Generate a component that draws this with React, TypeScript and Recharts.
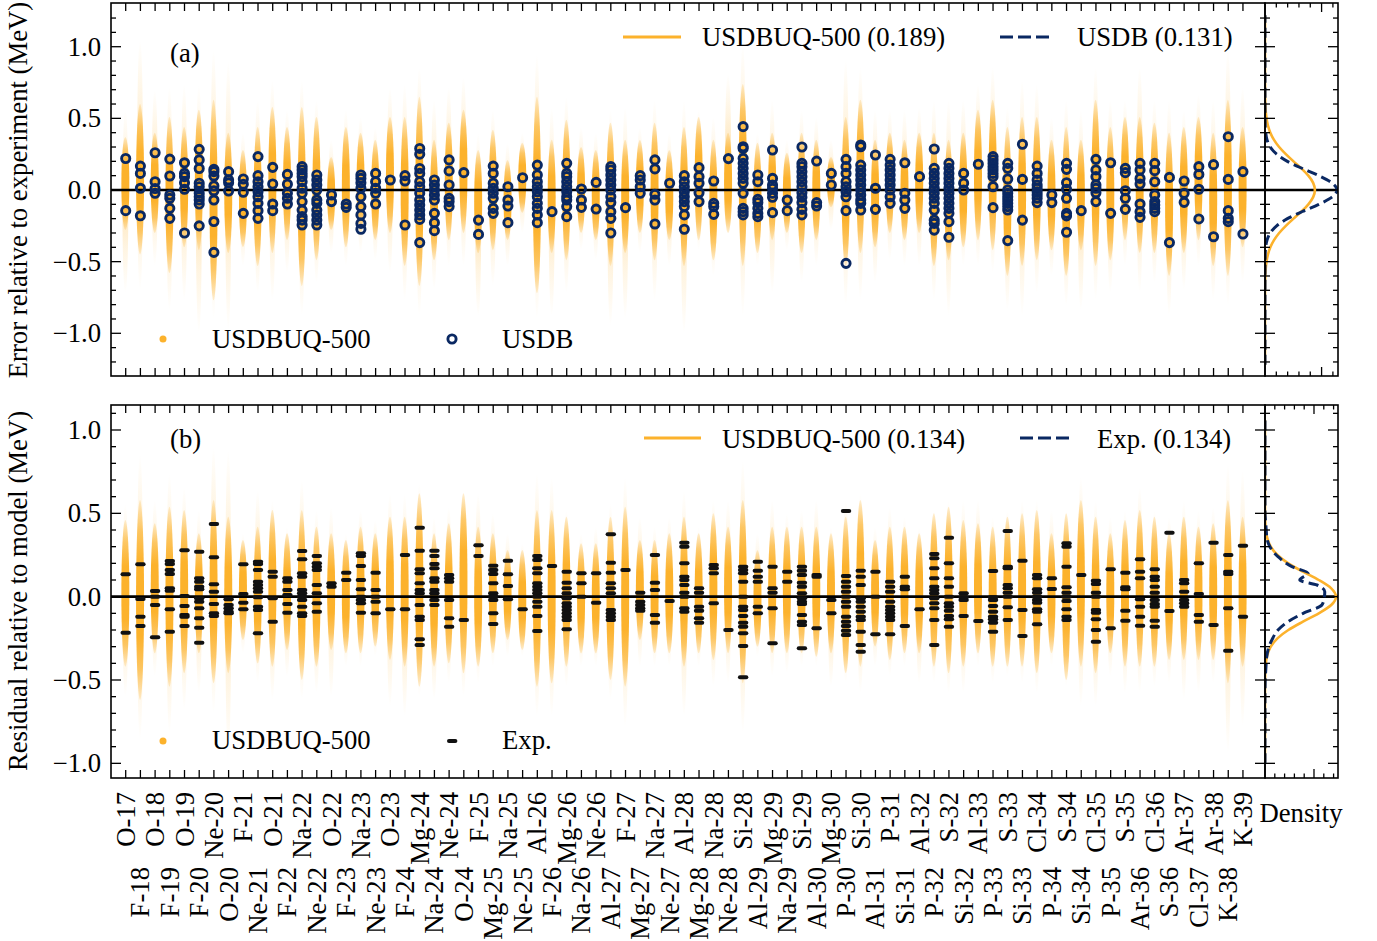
import React from 'react';
import { ComposedChart, Bar, Scatter, Line, XAxis, YAxis, ReferenceLine } from 'recharts';

const nuclei = [
  'O-17', 'F-18', 'O-18', 'F-19', 'O-19', 'F-20', 'Ne-20', 'O-20', 'F-21', 'Ne-21',
  'O-21', 'F-22', 'Na-22', 'Ne-22', 'O-22', 'F-23', 'Na-23', 'Ne-23', 'O-23', 'F-24',
  'Mg-24', 'Na-24', 'Ne-24', 'O-24', 'F-25', 'Mg-25', 'Na-25', 'Ne-25', 'Al-26', 'F-26',
  'Mg-26', 'Na-26', 'Ne-26', 'Al-27', 'F-27', 'Mg-27', 'Na-27', 'Ne-27', 'Al-28', 'Mg-28',
  'Na-28', 'Ne-28', 'Si-28', 'Al-29', 'Mg-29', 'Na-29', 'Si-29', 'Al-30', 'Mg-30', 'P-30',
  'Si-30', 'Al-31', 'P-31', 'Si-31', 'Al-32', 'P-32', 'S-32', 'Si-32', 'Al-33', 'P-33',
  'S-33', 'Si-33', 'Cl-34', 'P-34', 'S-34', 'Si-34', 'Cl-35', 'P-35', 'S-35', 'Ar-36',
  'Cl-36', 'S-36', 'Ar-37', 'Cl-37', 'Ar-38', 'K-38', 'K-39',
];

// (a) USDB error relative to experiment, one list per nucleus (MeV)
const usdbErr: number[][] = [
  [0.22, -0.144], [0.167, 0.116, 0.012, -0.18], [0.26, 0.058, 0.01, -0.023],
  [0.216, 0.098, -0.035, -0.058, -0.128, -0.198], [0.19, 0.116, 0.093, 0.05, 0.005, -0.3],
  [0.284, 0.21, 0.15, 0.047, 0.023, -0.023, -0.047, -0.07, -0.098, -0.25],
  [0.144, 0.128, 0.098, 0.028, -0.005, -0.07, -0.22, -0.435], [0.128, 0.07, 0.05, -0.007],
  [0.077, 0.04, -0.016, -0.163], [0.233, 0.1, 0.058, 0.023, -0.012, -0.047, -0.093, -0.144, -0.198],
  [0.158, 0.042, -0.098, -0.144], [0.109, 0.04, -0.023, -0.058, -0.098],
  [0.163, 0.14, 0.116, 0.093, 0.058, 0.012, -0.023, -0.081, -0.14, -0.186, -0.21, -0.244],
  [0.105, 0.07, 0.035, 0, -0.07, -0.093, -0.14, -0.174, -0.21, -0.244], [-0.035, -0.081],
  [-0.098, -0.121], [0.105, 0.081, 0.05, 0.012, -0.047, -0.116, -0.174, -0.233, -0.274],
  [0.116, 0.058, 0.012, -0.023, -0.098], [0.07], [0.1, 0.063, -0.244],
  [0.29, 0.25, 0.15, 0.116, 0.058, 0.023, -0.023, -0.07, -0.105, -0.14, -0.174, -0.205, -0.367],
  [0.07, 0.035, 0, -0.035, -0.07, -0.163, -0.228, -0.284], [0.21, 0.133, 0.035, -0.058, -0.081, -0.116],
  [0.121], [-0.21, -0.31], [0.167, 0.116, 0.047, 0.012, -0.023, -0.058, -0.128, -0.163],
  [0.023, -0.07, -0.112, -0.228], [0.086],
  [0.174, 0.105, 0.058, 0.023, -0.012, -0.047, -0.093, -0.128, -0.174, -0.228], [-0.151],
  [0.186, 0.116, 0.093, 0.058, 0.023, -0.012, -0.047, -0.07, -0.116, -0.186], [0.007, -0.07, -0.121],
  [0.053, -0.133], [0.163, 0.14, 0.105, 0.07, 0.035, 0, -0.047, -0.088, -0.151, -0.198, -0.3],
  [-0.123], [0.1, 0.07, 0.023, -0.023], [0.21, 0.147, -0.03, -0.07, -0.237], [0.047],
  [0.1, 0.058, 0.023, -0.012, -0.047, -0.081, -0.116, -0.174, -0.274], [0.156, 0.093, 0.047, -0.019, -0.081],
  [0.063, -0.093, -0.116, -0.17], [0.219],
  [0.442, 0.302, 0.29, 0.221, 0.186, 0.151, 0.116, 0.081, 0.047, -0.023, -0.128, -0.151, -0.174],
  [0.105, 0.058, -0.065, -0.088, -0.128, -0.163, -0.186], [0.279, 0.081, 0.035, 0.012, -0.023, -0.051, -0.158],
  [-0.07, -0.144], [0.3, 0.186, 0.163, 0.128, 0.093, 0.058, 0.023, -0.019, -0.051, -0.088, -0.135, -0.174],
  [0.202, -0.088, -0.112], [0.116, 0.035], [0.214, 0.163, 0.116, 0.058, 0.023, -0.012, -0.047, -0.144, -0.512],
  [0.314, 0.302, 0.174, 0.14, 0.105, 0.07, 0.035, 0, -0.035, -0.07, -0.093, -0.14], [0.244, 0.012, -0.135],
  [0.214, 0.174, 0.14, 0.105, 0.07, 0.035, 0, -0.047, -0.093], [0.19, -0.023, -0.07, -0.128], [0.093],
  [0.286, 0.151, 0.116, 0.081, 0.047, 0.012, -0.023, -0.058, -0.093, -0.14, -0.21, -0.233, -0.28],
  [0.186, 0.151, 0.116, 0.081, 0.047, 0.012, -0.023, -0.058, -0.093, -0.128, -0.163, -0.221, -0.33],
  [0.116, 0.047, 0], [0.18], [0.233, 0.21, 0.186, 0.163, 0.14, 0.116, 0.093, 0.023, -0.123],
  [0.186, 0.151, 0.077, 0, -0.023, -0.047, -0.07, -0.093, -0.116, -0.14, -0.353], [0.319, 0.074, -0.21],
  [0.167, 0.116, 0.07, 0.035, 0.012, -0.012, -0.035, -0.058, -0.088], [-0.035, -0.088],
  [0.186, 0.144, 0.051, 0.005, -0.058, -0.163, -0.181, -0.295], [-0.144],
  [0.214, 0.14, 0.093, 0.035, 0.012, -0.019, -0.081], [0.19, -0.163], [0.151, 0.121, -0.005, -0.058, -0.135],
  [0.186, 0.14, 0.081, 0.042, -0.098, -0.151, -0.191], [0.186, 0.135, 0.058, -0.035, -0.081, -0.105, -0.128, -0.151],
  [0.088, -0.367], [0.063, -0.023, -0.086], [0.163, 0.109, 0.005, -0.202], [0.177, -0.326],
  [0.372, 0.074, -0.144, -0.198, -0.221], [0.128, -0.307],
];

// (b) experimental residual relative to model (MeV)
const expResid: number[][] = [
  [0.134, -0.216], [0.194, -0.014, -0.12, -0.176], [0.034, 0, -0.05, -0.244],
  [0.214, 0.196, 0.16, 0.136, 0.05, 0.036, -0.076, -0.21], [0.278, 0.004, -0.056, -0.11, -0.12, -0.176],
  [0.27, 0.11, 0.09, 0.06, 0.044, -0.01, -0.03, -0.07, -0.13, -0.186, -0.276],
  [0.436, 0.236, 0.074, 0.03, -0.044, -0.1, -0.116], [-0.016, -0.05, -0.07, -0.09, -0.1],
  [0.194, 0.016, -0.036, -0.076], [0.21, 0.196, 0.16, 0.09, 0.07, 0.05, 0.03, -0.004, -0.06, -0.08, -0.22],
  [0.15, 0.12, -0.01, -0.15], [0.11, 0.09, 0.04, 0.01, -0.044, -0.096],
  [0.274, 0.224, 0.14, 0.12, 0.04, 0.02, 0, -0.02, -0.06, -0.1, -0.116],
  [0.244, 0.2, 0.18, 0.16, 0.07, 0.02, -0.04, -0.09], [0.08, 0.06], [0.144, 0.1],
  [0.26, 0.244, 0.184, 0.1, 0.044, 0, -0.02, -0.04, -0.096], [0.144, 0.04, 0, -0.03, -0.1], [-0.076],
  [0.25, -0.076], [0.414, 0.276, 0.164, 0.14, 0.08, 0.04, 0.02, -0.05, -0.12, -0.14, -0.256, -0.29],
  [0.276, 0.244, 0.196, 0.17, 0.11, 0.09, 0.04, 0.02, -0.02, -0.05], [0.13, 0.11, 0.09, -0.02, -0.13, -0.18],
  [-0.14], [0.308, 0.244], [0.186, 0.16, 0.136, 0.08, 0.02, 0, -0.02, -0.1, -0.164],
  [0.216, 0.134, 0.064, -0.016], [-0.076],
  [0.244, 0.22, 0.17, 0.14, 0.08, 0.06, 0.04, 0.02, 0, -0.03, -0.06, -0.116, -0.206], [0.184],
  [0.15, 0.084, 0.05, 0.02, -0.01, -0.04, -0.06, -0.08, -0.1, -0.12, -0.14, -0.196], [0.14, 0.08, 0],
  [0.14, -0.036], [0.374, 0.204, 0.144, 0.08, 0.05, 0.02, -0.08, -0.1, -0.12, -0.14], [0.16],
  [0.024, -0.03, -0.05, -0.07, -0.084], [0.25, 0.084, 0.04, -0.11, -0.156], [-0.026],
  [0.324, 0.3, 0.2, 0.12, 0.1, 0.07, 0.024, 0, -0.07, -0.09], [0.05, 0.024, -0.06, -0.084, -0.13, -0.156],
  [0.19, 0.17, 0.14, -0.04], [-0.2],
  [0.18, 0.16, 0.14, 0.09, 0, -0.06, -0.08, -0.116, -0.156, -0.18, -0.22, -0.296, -0.484],
  [0.21, 0.156, 0.12, 0.09, -0.06, -0.1], [0.18, 0.05, 0.024, -0.07, -0.28], [0.15, 0.09],
  [0.18, 0.156, 0.13, 0.084, 0.06, 0.02, -0.01, -0.03, -0.044, -0.11, -0.15, -0.17, -0.31],
  [0.13, 0.12, -0.19], [-0.02, -0.1],
  [0.514, 0.124, 0.09, 0.06, 0.03, 0, -0.03, -0.06, -0.12, -0.15, -0.176, -0.204, -0.23],
  [0.156, 0.12, 0.07, -0.01, -0.03, -0.06, -0.09, -0.12, -0.14, -0.21, -0.29, -0.33], [0.15, 0, -0.226],
  [0.09, 0.06, 0.03, -0.03, -0.06, -0.08, -0.1, -0.12, -0.14, -0.226], [0.12, 0.06, 0.044, -0.176], [-0.076],
  [0.256, 0.23, 0.17, 0.11, 0.06, 0.04, 0.02, -0.01, -0.04, -0.07, -0.14, -0.29],
  [0.354, 0.2, 0.11, 0.06, 0, -0.04, -0.06, -0.084, -0.116, -0.136, -0.18], [0.02, -0.004, -0.02, -0.116],
  [-0.146], [0.154, -0.004, -0.02, -0.056, -0.09, -0.12, -0.136, -0.156, -0.21],
  [0.394, 0.18, 0.17, 0.07, 0.05, 0.024, 0, -0.064, -0.14], [0.216, -0.08, -0.236],
  [0.13, 0.11, 0.044, 0.024, 0, -0.02, -0.036, -0.076, -0.09, -0.166], [0.11, 0.046],
  [0.32, 0.3, 0.18, 0.056, 0.024, 0, -0.026, -0.076, -0.12, -0.14], [0.13],
  [0.096, 0.076, 0.024, 0, -0.08, -0.096, -0.136, -0.2, -0.27], [0.164, -0.19],
  [0.144, 0.056, 0.044, -0.084, -0.144], [0.224, 0.15, 0.11, -0.016, -0.06, -0.12, -0.174],
  [0.164, 0.12, 0.1, 0.06, 0.024, -0.02, -0.044, -0.06, -0.144, -0.18], [0.384, -0.086],
  [0.1, 0.08, 0.03, -0.02, -0.04, -0.06], [0.2, 0.016, -0.11, -0.15], [0.324, -0.17],
  [0.25, 0.15, 0.136, -0.07, -0.324], [0.306, -0.12],
];

// USDBUQ-500 sample spread per nucleus: dense core and faint tail [low, high]
const uqCoreA: number[][] = [
  [-0.28, 0.37], [-0.45, 0.6], [-0.3, 0.4], [-0.58, 0.51], [-0.4, 0.44], [-0.42, 0.56], [-0.77, 0.63],
  [-0.44, 0.4], [-0.4, 0.28], [-0.53, 0.44], [-0.44, 0.58], [-0.35, 0.44], [-0.67, 0.58], [-0.49, 0.51],
  [-0.28, 0.23], [-0.4, 0.44], [-0.3, 0.4], [-0.35, 0.35], [-0.3, 0.51], [-0.53, 0.51], [-0.67, 0.65],
  [-0.49, 0.35], [-0.35, 0.47], [-0.3, 0.56], [-0.44, 0.28], [-0.42, 0.42], [-0.35, 0.21], [-0.16, 0.33],
  [-0.72, 0.65], [-0.44, 0.35], [-0.49, 0.49], [-0.3, 0.3], [-0.35, 0.28], [-0.53, 0.47], [-0.44, 0.35],
  [-0.3, 0.35], [-0.49, 0.47], [-0.35, 0.28], [-0.53, 0.44], [-0.35, 0.51], [-0.49, 0.35], [-0.3, 0.4],
  [-0.53, 0.74], [-0.44, 0.33], [-0.35, 0.4], [-0.3, 0.26], [-0.44, 0.4], [-0.35, 0.35], [-0.12, 0.23],
  [-0.53, 0.51], [-0.44, 0.63], [-0.4, 0.35], [-0.3, 0.4], [-0.35, 0.35], [-0.3, 0.4], [-0.53, 0.4],
  [-0.49, 0.35], [-0.4, 0.4], [-0.35, 0.56], [-0.42, 0.63], [-0.6, 0.44], [-0.53, 0.51], [-0.49, 0.51],
  [-0.42, 0.35], [-0.6, 0.44], [-0.42, 0.35], [-0.53, 0.63], [-0.49, 0.44], [-0.35, 0.51], [-0.44, 0.51],
  [-0.44, 0.47], [-0.6, 0.4], [-0.44, 0.44], [-0.35, 0.51], [-0.53, 0.4], [-0.6, 0.63], [-0.4, 0.44],
];
const uqTailA: number[][] = [
  [-0.72, 0.56], [-0.7, 1.05], [-0.53, 0.7], [-0.84, 0.72], [-0.77, 0.74], [-1.0, 0.74], [-0.9, 0.98],
  [-0.98, 0.9], [-0.53, 0.4], [-0.72, 0.63], [-0.77, 0.77], [-0.58, 0.56], [-0.88, 0.77], [-0.65, 0.63],
  [-0.44, 0.35], [-0.53, 0.56], [-0.44, 0.51], [-0.49, 0.44], [-0.58, 0.72], [-0.77, 0.74], [-0.88, 0.86],
  [-0.7, 0.63], [-0.53, 0.72], [-0.53, 0.79], [-0.88, 0.4], [-0.67, 0.56], [-0.53, 0.33], [-0.3, 0.4],
  [-0.9, 0.95], [-0.88, 0.58], [-0.72, 0.65], [-0.42, 0.44], [-0.49, 0.4], [-0.95, 0.56], [-0.9, 0.58],
  [-0.44, 0.44], [-0.77, 0.63], [-0.53, 0.4], [-1.0, 0.63], [-0.42, 0.56], [-0.6, 0.51], [-0.3, 0.81],
  [-0.88, 1.02], [-0.53, 0.4], [-0.72, 0.63], [-0.42, 0.35], [-0.65, 0.56], [-0.53, 0.51], [-0.28, 0.35],
  [-0.81, 0.91], [-0.77, 0.86], [-0.65, 0.56], [-0.49, 0.56], [-0.53, 0.56], [-0.53, 0.58], [-0.77, 0.63],
  [-0.88, 0.63], [-0.53, 0.63], [-0.53, 0.74], [-0.58, 0.86], [-0.84, 0.58], [-0.88, 0.77], [-0.72, 0.74],
  [-0.6, 0.51], [-0.81, 0.63], [-0.84, 0.56], [-0.77, 0.86], [-0.72, 0.63], [-0.53, 0.63], [-0.72, 0.86],
  [-0.65, 0.63], [-0.88, 0.63], [-0.7, 0.56], [-0.53, 0.67], [-0.77, 0.63], [-0.81, 0.98], [-0.65, 0.72],
];
const uqCoreB: number[][] = [
  [-0.42, 0.46], [-0.62, 0.58], [-0.34, 0.44], [-0.54, 0.54], [-0.46, 0.52], [-0.34, 0.38], [-0.52, 0.58],
  [-0.46, 0.48], [-0.26, 0.34], [-0.4, 0.42], [-0.42, 0.52], [-0.32, 0.38], [-0.5, 0.52], [-0.42, 0.42],
  [-0.32, 0.38], [-0.34, 0.34], [-0.34, 0.42], [-0.3, 0.38], [-0.38, 0.48], [-0.42, 0.48], [-0.54, 0.62],
  [-0.42, 0.38], [-0.4, 0.44], [-0.46, 0.62], [-0.42, 0.42], [-0.34, 0.38], [-0.26, 0.28], [-0.32, 0.28],
  [-0.54, 0.52], [-0.52, 0.52], [-0.42, 0.48], [-0.34, 0.32], [-0.34, 0.32], [-0.5, 0.48], [-0.54, 0.54],
  [-0.26, 0.34], [-0.34, 0.34], [-0.34, 0.38], [-0.42, 0.48], [-0.34, 0.38], [-0.38, 0.5], [-0.34, 0.42],
  [-0.52, 0.58], [-0.3, 0.28], [-0.34, 0.42], [-0.34, 0.42], [-0.34, 0.42], [-0.36, 0.42], [-0.34, 0.38],
  [-0.46, 0.48], [-0.42, 0.58], [-0.3, 0.34], [-0.38, 0.42], [-0.34, 0.42], [-0.34, 0.38], [-0.42, 0.5],
  [-0.46, 0.54], [-0.42, 0.46], [-0.34, 0.44], [-0.42, 0.42], [-0.42, 0.48], [-0.42, 0.5], [-0.46, 0.52],
  [-0.34, 0.38], [-0.5, 0.5], [-0.42, 0.58], [-0.46, 0.48], [-0.34, 0.38], [-0.42, 0.46], [-0.42, 0.52],
  [-0.42, 0.48], [-0.38, 0.38], [-0.38, 0.48], [-0.38, 0.42], [-0.38, 0.44], [-0.52, 0.58], [-0.42, 0.48],
];
const uqTailB: number[][] = [
  [-0.6, 0.56], [-0.86, 0.86], [-0.48, 0.58], [-0.82, 0.74], [-0.68, 0.66], [-0.58, 0.52], [-0.7, 0.9],
  [-0.94, 0.88], [-0.34, 0.38], [-0.52, 0.64], [-0.62, 0.58], [-0.48, 0.42], [-0.62, 0.7], [-0.58, 0.52],
  [-0.6, 0.54], [-0.42, 0.38], [-0.42, 0.52], [-0.36, 0.46], [-0.66, 0.62], [-0.72, 0.62], [-0.6, 0.68],
  [-0.62, 0.48], [-0.52, 0.54], [-0.6, 0.64], [-0.52, 0.62], [-0.42, 0.5], [-0.36, 0.38], [-0.36, 0.32],
  [-0.72, 0.74], [-0.72, 0.72], [-0.54, 0.52], [-0.42, 0.38], [-0.42, 0.42], [-0.62, 0.56], [-0.78, 0.72],
  [-0.42, 0.48], [-0.42, 0.42], [-0.42, 0.48], [-0.72, 0.64], [-0.42, 0.42], [-0.54, 0.58], [-0.52, 0.58],
  [-0.82, 0.82], [-0.36, 0.38], [-0.48, 0.58], [-0.46, 0.5], [-0.42, 0.52], [-0.42, 0.58], [-0.54, 0.42],
  [-0.52, 0.58], [-0.58, 0.62], [-0.42, 0.42], [-0.48, 0.54], [-0.42, 0.48], [-0.52, 0.42], [-0.52, 0.52],
  [-0.58, 0.58], [-0.58, 0.58], [-0.42, 0.58], [-0.52, 0.48], [-0.48, 0.52], [-0.52, 0.58], [-0.58, 0.58],
  [-0.42, 0.52], [-0.54, 0.52], [-0.66, 0.72], [-0.66, 0.58], [-0.48, 0.48], [-0.58, 0.52], [-0.58, 0.66],
  [-0.54, 0.52], [-0.52, 0.48], [-0.62, 0.58], [-0.58, 0.52], [-0.52, 0.54], [-0.94, 0.8], [-0.78, 0.76],
];

// density side panels
const densGridA = [-1.22, -1.0, -0.8, -0.7, -0.6, -0.5, -0.45, -0.4, -0.35, -0.3, -0.25, -0.2, -0.15, -0.1, -0.05, 0,
  0.05, 0.1, 0.15, 0.2, 0.25, 0.3, 0.35, 0.4, 0.45, 0.5, 0.6, 0.7, 0.8, 1.0, 1.22];
const densUqA = [0, 0, 0, 0.001, 0.006, 0.027, 0.052, 0.094, 0.159, 0.25, 0.368, 0.504, 0.644, 0.766, 0.851, 0.882,
  0.851, 0.766, 0.644, 0.504, 0.368, 0.25, 0.159, 0.094, 0.052, 0.027, 0.006, 0.001, 0, 0, 0];
const densUsdbA = [0, 0, 0, 0, 0, 0.001, 0.003, 0.012, 0.036, 0.092, 0.206, 0.396, 0.66, 0.951, 1.183, 1.272,
  1.183, 0.951, 0.66, 0.396, 0.206, 0.092, 0.036, 0.012, 0.003, 0.001, 0, 0, 0, 0, 0];
const densGridB = [-0.99, -0.8, -0.6, -0.5, -0.45, -0.4, -0.35, -0.3, -0.25, -0.2, -0.15, -0.1, -0.05, 0,
  0.05, 0.1, 0.15, 0.2, 0.25, 0.3, 0.35, 0.4, 0.45, 0.5, 0.6, 0.8, 1.06];
const densUqB = [0, 0, 0, 0.001, 0.005, 0.017, 0.048, 0.118, 0.254, 0.476, 0.775, 1.097, 1.352, 1.449,
  1.352, 1.097, 0.775, 0.476, 0.254, 0.118, 0.048, 0.017, 0.005, 0.001, 0, 0, 0];
const expGridB = [-1.0, -0.6, -0.5, -0.42, -0.36, -0.3, -0.26, -0.2, -0.15, -0.1, -0.05, -0.02, 0.03, 0.07,
  0.1, 0.14, 0.18, 0.24, 0.3, 0.34, 0.42, 0.52, 0.7, 1.08];
const densExpB = [0, 0, 0.005, 0.02, 0.035, 0.08, 0.14, 0.265, 0.47, 0.78, 1.16, 1.2, 1.22, 1.06,
  0.71, 0.88, 0.55, 0.265, 0.1, 0.047, 0.02, 0, 0, 0];

const yTicksA = [-1.2, -1.1, -1.0, -0.9, -0.8, -0.7, -0.6, -0.5, -0.4, -0.3, -0.2, -0.1, 0, 0.1, 0.2, 0.3, 0.4, 0.5,
  0.6, 0.7, 0.8, 0.9, 1.0, 1.1, 1.2];
const yTicksB = [-1.0, -0.9, -0.8, -0.7, -0.6, -0.5, -0.4, -0.3, -0.2, -0.1, 0, 0.1, 0.2, 0.3, 0.4, 0.5, 0.6,
  0.7, 0.8, 0.9, 1.0, 1.1];
const densTicksA = [0.2, 0.4, 0.6, 0.8, 1.0, 1.2];
const densTicksB = [0.2, 0.4, 0.6, 0.8, 1.0, 1.2, 1.4];

const ORANGE = '#FCB22C';
const NAVY = '#0A2862';
const FONT = "'Liberation Serif', 'Times New Roman', serif";
const FS = 26.7;

const W = 1377;
const H = 941;
const PA = { left: 111, right: 1265, top: 3, bottom: 376 };
const PB = { left: 111, right: 1265, top: 405, bottom: 778 };
const DR = 1338;

const bandA = nuclei.map((_, i) => ({ x: i, tail: uqTailA[i], core: uqCoreA[i] }));
const bandB = nuclei.map((_, i) => ({ x: i, tail: uqTailB[i], core: uqCoreB[i] }));
const usdbPts = usdbErr.flatMap((vals, i) => vals.map((v) => ({ x: i, y: v })));
const expPts = expResid.flatMap((vals, i) => vals.map((v) => ({ x: i, y: v })));
const xTicks = nuclei.map((_, i) => i);
const densA = densGridA.map((v, i) => ({ v, uq: densUqA[i], usdb: densUsdbA[i] }));
const densB = densGridB.map((v, i) => ({ v, uq: densUqB[i] }));
const densE = expGridB.map((v, i) => ({ v, exp: densExpB[i] }));

const fmt = (v: number) => (v < 0 ? '\u2212' : '') + Math.abs(v).toFixed(1);

const Band = (props: any) => {
  const { x, y, width, height, payload } = props;
  if (!payload || height == null) return null;
  const [tLo, tHi] = payload.tail;
  const [cLo, cHi] = payload.core;
  const top = Math.min(y, y + height);
  const h = Math.abs(height);
  const k = h / (tHi - tLo);
  const cx = x + width / 2;
  const cTop = top + (tHi - cHi) * k;
  const cH = (cHi - cLo) * k;
  return (
    <g>
      <ellipse cx={cx} cy={top + h / 2} rx={3} ry={h / 2} fill="url(#uqTail)" />
      <ellipse cx={cx} cy={cTop + cH / 2} rx={4} ry={cH / 2} fill="url(#uqCore)" />
    </g>
  );
};

const yTick = (left: number, right: number, labels: boolean) => (p: any) => {
  const v = p.payload.value;
  const major = Math.abs(v * 2 - Math.round(v * 2)) < 1e-6;
  const len = major ? 10 : 5;
  return (
    <g>
      <line x1={left} x2={left + len} y1={p.y} y2={p.y} stroke="#000" strokeWidth={1.3} />
      <line x1={right} x2={right - len} y1={p.y} y2={p.y} stroke="#000" strokeWidth={1.3} />
      {labels && major && (
        <text x={left - 10} y={p.y + 9} textAnchor="end" fontFamily={FONT} fontSize={FS} fill="#000">
          {fmt(v)}
        </text>
      )}
    </g>
  );
};

const xTick = (top: number, labels: boolean) => (p: any) => {
  const i = p.payload.value;
  return (
    <g>
      <line x1={p.x} x2={p.x} y1={p.y} y2={p.y - 8} stroke="#000" strokeWidth={1.3} />
      <line x1={p.x} x2={p.x} y1={top} y2={top + 8} stroke="#000" strokeWidth={1.3} />
      {labels && (
        <text
          transform={`translate(${p.x},${p.y + (i % 2 === 0 ? 14 : 89)}) rotate(-90)`}
          textAnchor="end"
          dominantBaseline="central"
          fontFamily={FONT}
          fontSize={FS}
          fill="#000"
        >
          {nuclei[i]}
        </text>
      )}
    </g>
  );
};

const dTick = (top: number) => (p: any) => {
  const v = p.payload.value;
  const len = Math.abs(v - Math.round(v)) < 1e-6 ? 9 : 4.5;
  return (
    <g>
      <line x1={p.x} x2={p.x} y1={p.y} y2={p.y - len} stroke="#000" strokeWidth={1.3} />
      <line x1={p.x} x2={p.x} y1={top} y2={top + len} stroke="#000" strokeWidth={1.3} />
    </g>
  );
};

const Ring = (p: any) => (
  <circle cx={p.cx} cy={p.cy} r={4.1} fill="none" stroke={NAVY} strokeWidth={2.9} />
);
const Dash = (p: any) => (
  <rect x={p.cx - 5.2} y={p.cy - 2} width={10.4} height={4} rx={2} fill="#111" />
);

const layer: React.CSSProperties = { position: 'absolute', left: 0, top: 0 };

const MainPanel = ({ p, band, pts, yDomain, yTicks, shape, labels }: any) => (
  <div style={layer}>
    <ComposedChart
      width={W}
      height={H}
      data={band}
      margin={{ top: p.top, left: p.left - 1, right: W - p.right, bottom: H - p.bottom - 1 }}
    >
      <XAxis
        type="number"
        dataKey="x"
        domain={[-1, 77.5]}
        ticks={xTicks}
        interval={0}
        height={1}
        tickSize={0}
        tickMargin={0}
        axisLine={false}
        tickLine={false}
        tick={xTick(p.top, labels)}
        allowDataOverflow
      />
      <YAxis
        type="number"
        dataKey="y"
        domain={yDomain}
        ticks={yTicks}
        interval={0}
        width={1}
        tickSize={0}
        tickMargin={0}
        axisLine={false}
        tickLine={false}
        tick={yTick(p.left, p.right, true)}
        allowDataOverflow
      />
      <Bar dataKey="tail" barSize={8} shape={Band} isAnimationActive={false} />
      <ReferenceLine y={0} stroke="#000" strokeWidth={2.6} />
      <Scatter data={pts} dataKey="y" shape={shape} isAnimationActive={false} />
    </ComposedChart>
  </div>
);

const DensityPanel = ({ p, yDomain, yTicks, xMax, dTicks, children }: any) => (
  <div style={layer}>
    <ComposedChart
      layout="vertical"
      width={W}
      height={H}
      margin={{ top: p.top, left: p.right - 1, right: W - DR, bottom: H - p.bottom - 1 }}
    >
      <XAxis
        type="number"
        domain={[0, xMax]}
        ticks={dTicks}
        interval={0}
        height={1}
        tickSize={0}
        tickMargin={0}
        axisLine={false}
        tickLine={false}
        tick={dTick(p.top)}
        allowDataOverflow
      />
      <YAxis
        type="number"
        dataKey="v"
        domain={yDomain}
        ticks={yTicks}
        interval={0}
        width={1}
        tickSize={0}
        tickMargin={0}
        axisLine={false}
        tickLine={false}
        tick={yTick(p.right, DR, false)}
        allowDataOverflow
        reversed
      />
      <ReferenceLine y={0} stroke="#000" strokeWidth={2.6} />
      {children}
    </ComposedChart>
  </div>
);

const txt = (x: number, y: number, s: string, extra: any = {}) => (
  <text x={x} y={y} fontFamily={FONT} fontSize={FS} fill="#000" {...extra}>
    {s}
  </text>
);

export default function App() {
  return (
    <div style={{ position: 'absolute', left: 0, top: 0, width: W, height: H, background: '#fff' }}>
      <svg width={0} height={0} style={{ position: 'absolute' }}>
        <defs>
          <linearGradient id="uqTail" x1="0" y1="0" x2="0" y2="1">
            <stop offset="0" stopColor={ORANGE} stopOpacity={0} />
            <stop offset="0.25" stopColor={ORANGE} stopOpacity={0.14} />
            <stop offset="0.5" stopColor={ORANGE} stopOpacity={0.35} />
            <stop offset="0.75" stopColor={ORANGE} stopOpacity={0.14} />
            <stop offset="1" stopColor={ORANGE} stopOpacity={0} />
          </linearGradient>
          <linearGradient id="uqCore" x1="0" y1="0" x2="0" y2="1">
            <stop offset="0" stopColor={ORANGE} stopOpacity={0.2} />
            <stop offset="0.15" stopColor={ORANGE} stopOpacity={0.7} />
            <stop offset="0.32" stopColor={ORANGE} stopOpacity={1} />
            <stop offset="0.68" stopColor={ORANGE} stopOpacity={1} />
            <stop offset="0.85" stopColor={ORANGE} stopOpacity={0.7} />
            <stop offset="1" stopColor={ORANGE} stopOpacity={0.2} />
          </linearGradient>
        </defs>
      </svg>

      <MainPanel p={PA} band={bandA} pts={usdbPts} yDomain={[-1.298, 1.305]} yTicks={yTicksA} shape={Ring} labels={false} />
      <MainPanel p={PB} band={bandB} pts={expPts} yDomain={[-1.088, 1.15]} yTicks={yTicksB} shape={Dash} labels />

      <DensityPanel p={PA} yDomain={[-1.298, 1.305]} yTicks={yTicksA} xMax={1.29} dTicks={densTicksA}>
        <Line data={densA} dataKey="uq" type="monotone" stroke={ORANGE} strokeWidth={2.6} dot={false} isAnimationActive={false} />
        <Line data={densA} dataKey="usdb" type="monotone" stroke={NAVY} strokeWidth={3} strokeDasharray="10 5" dot={false} isAnimationActive={false} />
      </DensityPanel>
      <DensityPanel p={PB} yDomain={[-1.088, 1.15]} yTicks={yTicksB} xMax={1.49} dTicks={densTicksB}>
        <Line data={densB} dataKey="uq" type="monotone" stroke={ORANGE} strokeWidth={2.6} dot={false} isAnimationActive={false} />
        <Line data={densE} dataKey="exp" type="monotone" stroke={NAVY} strokeWidth={3} strokeDasharray="10 5" dot={false} isAnimationActive={false} />
      </DensityPanel>

      <svg width={W} height={H} style={{ position: 'absolute', left: 0, top: 0, pointerEvents: 'none' }}>
        {[PA, PB].map((p, k) => (
          <g key={k} fill="none" stroke="#000" strokeWidth={1.6}>
            <rect x={p.left} y={p.top} width={p.right - p.left} height={p.bottom - p.top} />
            <rect x={p.right} y={p.top} width={DR - p.right} height={p.bottom - p.top} />
          </g>
        ))}

        {/* panel (a) legends */}
        {txt(170, 62, '(a)')}
        <line x1={623} x2={681} y1={37} y2={37} stroke={ORANGE} strokeWidth={3} />
        {txt(702, 46, 'USDBUQ-500 (0.189)')}
        <line x1={1000} x2={1054} y1={37} y2={37} stroke={NAVY} strokeWidth={3} strokeDasharray="13 5" />
        {txt(1077, 46, 'USDB (0.131)')}
        <circle cx={163} cy={339} r={3.5} fill={ORANGE} />
        {txt(212, 348, 'USDBUQ-500')}
        <circle cx={452} cy={339} r={4.1} fill="none" stroke={NAVY} strokeWidth={2.9} />
        {txt(502, 348, 'USDB')}

        {/* panel (b) legends */}
        {txt(170, 448, '(b)')}
        <line x1={644} x2={701} y1={438} y2={438} stroke={ORANGE} strokeWidth={3} />
        {txt(722, 448, 'USDBUQ-500 (0.134)')}
        <line x1={1020} x2={1073} y1={438} y2={438} stroke={NAVY} strokeWidth={3} strokeDasharray="13 5" />
        {txt(1097, 448, 'Exp. (0.134)')}
        <circle cx={163} cy={741} r={3.5} fill={ORANGE} />
        {txt(212, 749, 'USDBUQ-500')}
        <rect x={447} y={739} width={10.4} height={4} rx={2} fill="#111" />
        {txt(502, 749, 'Exp.')}

        {txt(18, 190, 'Error relative to experiment (MeV)', {
          transform: 'rotate(-90 18 190)',
          textAnchor: 'middle',
          dominantBaseline: 'central',
        })}
        {txt(18, 591, 'Residual relative to model (MeV)', {
          transform: 'rotate(-90 18 591)',
          textAnchor: 'middle',
          dominantBaseline: 'central',
        })}
        {txt(1301, 822, 'Density', { textAnchor: 'middle' })}
      </svg>
    </div>
  );
}
